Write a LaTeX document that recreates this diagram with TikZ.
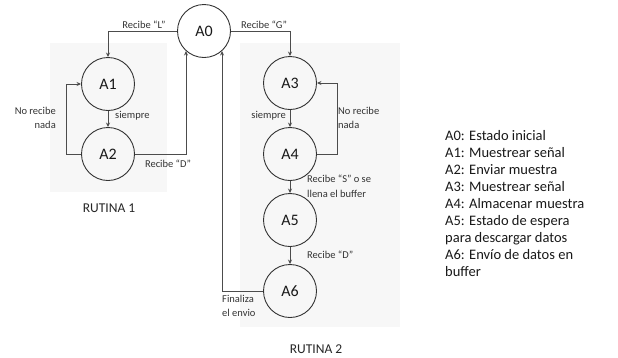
\documentclass[tikz,border=0pt]{standalone}
\usepackage{fontspec}
\setmainfont{Carlito}
\usetikzlibrary{arrows.meta}
\begin{document}
\begin{tikzpicture}[x=1pt,y=-1pt,
  state/.style={circle,draw=black!80,line width=0.9pt,minimum size=53pt,inner sep=0pt,font=\fontsize{16}{16}\selectfont,text=black!90},
  conn/.style={draw=black!70,line width=0.75pt,-{Stealth[length=4.5pt,width=4pt]}},
  lab/.style={font=\fontsize{10.5}{14.5}\selectfont,text=black!80,inner sep=0pt},
  title/.style={font=\fontsize{13.5}{15}\selectfont,text=black!85,inner sep=0pt}]
\useasboundingbox (0,0) rectangle (618,357);
\fill[black!3] (50,43) rectangle (167,192);
\fill[black!3] (240,43) rectangle (400,327);
\node[state] (A0) at (204,31) {A0};
\node[state] (A1) at (108,84) {A1};
\node[state] (A2) at (108,154) {A2};
\node[state] (A3) at (290,83) {A3};
\node[state] (A4) at (290,154) {A4};
\node[state] (A5) at (290,220) {A5};
\node[state] (A6) at (290,291) {A6};
\draw[conn] (A0.west) -| (A1.north);
\draw[conn] (A0.east) -| (A3.north);
\draw[conn] (A1) -- (A2);
\draw[conn] (A2.west) -- ++(-15,0) |- (A1.west);
\draw[conn] (A2.east) -| (A0.-132);
\draw[conn] (A3) -- (A4);
\draw[conn] (A4.east) -- ++(20,0) |- (A3.east);
\draw[conn] (A4) -- (A5);
\draw[conn] (A5) -- (A6);
\draw[conn] (A6.west) -| (A0.-48);
\node[lab] (lL) at (144,25) {Recibe “L”};
\node[lab] (lG) at (264,25) {Recibe “G”};
\node[lab,anchor=west] (s1) at (115,116) {siempre};
\node[lab,anchor=east] (s2) at (286,116) {siempre};
\node[lab,anchor=east,align=right] (n1) at (56,118) {No recibe\\nada};
\node[lab,anchor=west,align=left] (n2) at (338,118) {No recibe\\nada};
\node[lab] (lD1) at (168,164) {Recibe “D”};
\node[lab,anchor=west,align=left] (lS) at (307,186) {Recibe “S” o se\\llena el buffer};
\node[lab,anchor=west] (lD2) at (307,255) {Recibe “D”};
\node[lab,anchor=west,align=left] (fin) at (222,306) {Finaliza\\el envio};
\node[title] (r1) at (109,208) {RUTINA 1};
\node[title] (r2) at (316,349) {RUTINA 2};
\node[anchor=west,align=left,inner sep=0pt,font=\fontsize{14.5}{17.1}\selectfont,text=black!90] (leg) at (445,203.5) {A0: Estado inicial\\A1: Muestrear señal\\A2: Enviar muestra\\A3: Muestrear señal\\A4: Almacenar muestra\\A5: Estado de espera\\para descargar datos\\A6: Envío de datos en\\buffer};
\end{tikzpicture}
\end{document}
